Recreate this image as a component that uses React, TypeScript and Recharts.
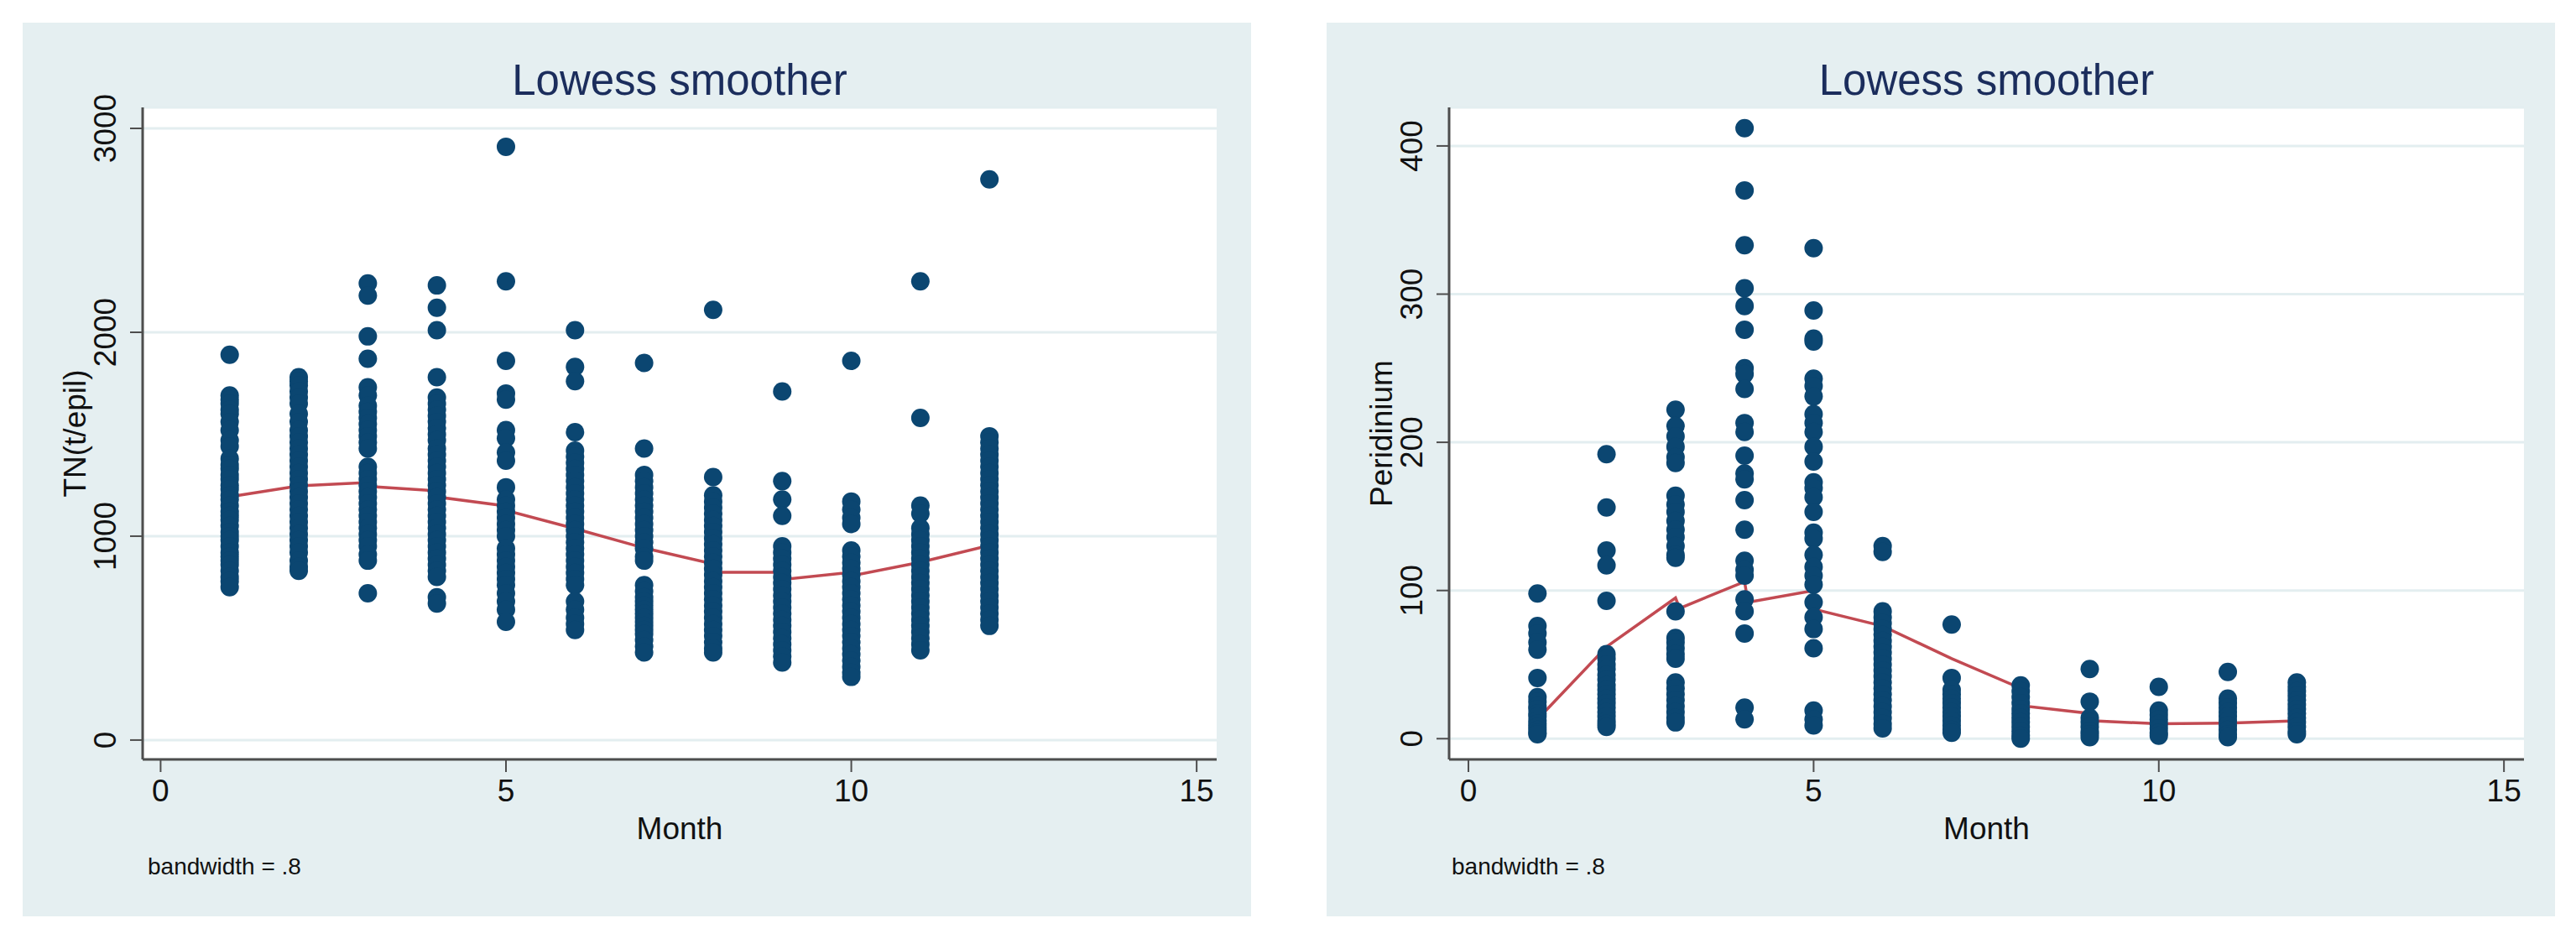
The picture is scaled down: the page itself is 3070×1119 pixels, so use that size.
import React from "react";
import {
  CartesianGrid,
  ComposedChart,
  Line,
  Scatter,
  XAxis,
  YAxis,
} from "recharts";

const MONTHS = [1, 2, 3, 4, 5, 6, 7, 8, 9, 10, 11, 12];
const X_TICKS = [0, 5, 10, 15];

// TN(t/epil) observations per month
const TN_BY_MONTH = [
  [1890, 1690, 1670, 1650, 1620, 1600, 1560, 1520, 1470, 1440, 1380, 1350, 1330, 1300, 1280, 1250, 1230, 1200, 1180, 1150, 1120, 1100, 1080, 1050, 1020, 1000, 980, 950, 920, 900, 880, 860, 830, 800, 780, 750],
  [1780, 1760, 1740, 1710, 1680, 1650, 1600, 1560, 1520, 1490, 1460, 1430, 1400, 1370, 1340, 1310, 1280, 1250, 1220, 1190, 1160, 1130, 1100, 1070, 1040, 1010, 980, 950, 920, 880, 850, 830],
  [2240, 2180, 1980, 1870, 1730, 1690, 1640, 1610, 1580, 1550, 1520, 1490, 1460, 1430, 1340, 1310, 1280, 1250, 1220, 1190, 1160, 1130, 1100, 1070, 1040, 1010, 980, 950, 910, 880, 720],
  [2230, 2120, 2010, 1780, 1680, 1650, 1620, 1590, 1560, 1530, 1500, 1470, 1430, 1400, 1370, 1340, 1310, 1280, 1250, 1220, 1190, 1160, 1130, 1100, 1070, 1040, 1010, 980, 950, 920, 890, 860, 830, 800, 700, 670],
  [2910, 2250, 1860, 1700, 1670, 1520, 1480, 1410, 1370, 1240, 1180, 1150, 1120, 1090, 1060, 1030, 1000, 940, 910, 880, 850, 820, 790, 760, 720, 680, 640, 580],
  [2010, 1830, 1760, 1510, 1420, 1390, 1360, 1330, 1300, 1270, 1240, 1210, 1180, 1150, 1120, 1090, 1060, 1030, 1000, 970, 940, 910, 880, 850, 820, 790, 760, 680, 640, 600, 570, 540],
  [1850, 1430, 1300, 1270, 1240, 1210, 1180, 1150, 1120, 1090, 1060, 1030, 1000, 970, 940, 900, 880, 760, 730, 700, 680, 660, 640, 620, 600, 580, 560, 540, 520, 490, 460, 430],
  [2110, 1290, 1200, 1170, 1140, 1110, 1080, 1050, 1020, 990, 960, 930, 900, 870, 840, 810, 780, 750, 720, 690, 660, 630, 600, 570, 540, 510, 480, 450, 430],
  [1710, 1270, 1180, 1100, 950, 920, 890, 860, 830, 800, 770, 740, 710, 680, 650, 620, 590, 560, 530, 500, 470, 440, 410, 380],
  [1860, 1170, 1130, 1090, 1060, 930, 900, 870, 840, 810, 780, 750, 720, 690, 660, 630, 600, 570, 540, 510, 480, 450, 420, 390, 360, 330, 310],
  [2250, 1580, 1150, 1110, 1040, 1010, 980, 950, 920, 890, 860, 830, 800, 770, 740, 710, 680, 650, 620, 590, 560, 530, 500, 470, 440],
  [2750, 1490, 1460, 1430, 1400, 1370, 1340, 1310, 1280, 1250, 1220, 1190, 1160, 1130, 1100, 1070, 1040, 1010, 980, 950, 920, 890, 860, 830, 800, 770, 740, 710, 680, 650, 620, 590, 560],
];

// Peridinium observations per month
const PERI_BY_MONTH = [
  [98, 76, 71, 65, 60, 41, 28, 25, 22, 20, 17, 15, 12, 10, 8, 6, 4, 3],
  [192, 156, 127, 117, 93, 57, 54, 50, 47, 43, 40, 36, 33, 30, 27, 24, 21, 18, 15, 12, 10, 8],
  [222, 211, 204, 197, 190, 186, 164, 158, 153, 147, 141, 136, 130, 124, 122, 86, 68, 65, 61, 57, 54, 38, 34, 30, 26, 22, 18, 14, 11],
  [412, 370, 333, 304, 292, 276, 250, 246, 236, 213, 207, 191, 179, 175, 161, 141, 120, 114, 110, 94, 86, 71, 21, 13],
  [331, 289, 270, 268, 243, 238, 231, 219, 213, 207, 197, 187, 173, 169, 163, 153, 139, 135, 124, 116, 110, 104, 92, 82, 74, 61, 19, 13, 9],
  [130, 126, 86, 82, 78, 74, 70, 66, 62, 58, 54, 50, 46, 42, 38, 34, 30, 26, 22, 18, 14, 10, 7],
  [77, 41, 33, 30, 27, 24, 21, 18, 15, 12, 9, 6, 4],
  [36, 32, 28, 24, 20, 17, 14, 11, 8, 5, 2, 0],
  [47, 25, 14, 11, 8, 5, 3, 1],
  [35, 19, 16, 13, 10, 7, 4, 2],
  [45, 27, 24, 21, 18, 15, 12, 9, 6, 3, 1],
  [38, 35, 32, 29, 26, 23, 20, 17, 14, 11, 8, 5, 3],
];

// lowess fitted values (x, fit)
const TN_LOWESS_X = [1, 2, 3, 3.08, 4, 4.08, 5, 5.08, 6, 7, 8, 8.08, 9, 9.08, 10, 10.08, 11, 12, 12.05];
const TN_LOWESS_Y = [1193, 1247, 1263, 1243, 1222, 1189, 1148, 1119, 1037, 942, 864, 823, 823, 790, 823, 811, 872, 955, 983];

const PERI_LOWESS_X = [1, 2, 3, 3.06, 4, 4.05, 5, 5.04, 6, 7, 8, 8.06, 9, 9.06, 10, 11, 12];
const PERI_LOWESS_Y = [13, 62, 95, 88, 106, 92, 100, 87, 76, 54, 34, 22, 17, 12, 10, 10.5, 12];

const TN_TICKS = [0, 1000, 2000, 3000];
const PERI_TICKS = [0, 100, 200, 300, 400];

const BG = "#e5eff1";
const GRID = "#e3eef0";
const NAVY = "#0b4671";
const RED = "#c24a52";
const AXIS = "#4d4d4d";
const FONT = "'Liberation Sans', Arial, sans-serif";

const PANEL_W = 1464;
const PANEL_H = 1065;
const Y_AXIS_W = 60;
const X_AXIS_H = 60;

function toPoints(byMonth: number[][]) {
  return byMonth.flatMap((vals, i) => vals.map((v) => ({ x: MONTHS[i], y: v })));
}

function toLine(xs: number[], ys: number[]) {
  return xs.map((x, i) => ({ x, y: ys[i] }));
}

function YTick(props: any) {
  const { x, y, payload } = props;
  const tx = x - 17;
  return (
    <text
      x={tx}
      y={y}
      transform={`rotate(-90, ${tx}, ${y})`}
      textAnchor="middle"
      fontSize={37}
      fontFamily={FONT}
      fill="#111"
    >
      {payload.value}
    </text>
  );
}

function XTick(props: any) {
  const { x, y, payload } = props;
  return (
    <text x={x} y={y + 35} textAnchor="middle" fontSize={37} fontFamily={FONT} fill="#111">
      {payload.value}
    </text>
  );
}

function Dot(props: any) {
  return <circle cx={props.cx} cy={props.cy} r={11} fill={NAVY} />;
}

function Panel({
  left,
  yLabel,
  points,
  lowess,
  yDomain,
  yTicks,
  xDomain,
  plotLeft,
  plotRight,
}: {
  left: number;
  yLabel: string;
  points: { x: number; y: number }[];
  lowess: { x: number; y: number }[];
  yDomain: [number, number];
  yTicks: number[];
  xDomain: [number, number];
  plotLeft: number;
  plotRight: number;
}) {
  const top = 101;
  const bottom = 187;
  const cx = plotLeft + (PANEL_W - plotLeft - plotRight) / 2;
  const cy = top + (PANEL_H - top - bottom) / 2;
  return (
    <div
      style={{
        position: "absolute",
        left,
        top: 27,
        width: PANEL_W,
        height: PANEL_H,
        background: BG,
      }}
    >
      <ComposedChart
        width={PANEL_W}
        height={PANEL_H}
        margin={{
          top,
          right: plotRight,
          bottom: bottom - X_AXIS_H,
          left: plotLeft - Y_AXIS_W,
        }}
      >
        <CartesianGrid vertical={false} stroke={GRID} strokeWidth={3} fill="#ffffff" />
        <XAxis
          type="number"
          dataKey="x"
          domain={xDomain}
          ticks={X_TICKS}
          allowDataOverflow
          height={X_AXIS_H}
          tickSize={15}
          tickMargin={0}
          axisLine={{ stroke: AXIS, strokeWidth: 3 }}
          tickLine={{ stroke: AXIS, strokeWidth: 2 }}
          tick={<XTick />}
        />
        <YAxis
          type="number"
          dataKey="y"
          domain={yDomain}
          ticks={yTicks}
          allowDataOverflow
          width={Y_AXIS_W}
          tickSize={15}
          tickMargin={0}
          axisLine={{ stroke: AXIS, strokeWidth: 3 }}
          tickLine={{ stroke: AXIS, strokeWidth: 2 }}
          tick={<YTick />}
        />
        <Scatter data={points} dataKey="y" shape={<Dot />} isAnimationActive={false} />
        <Line
          data={lowess}
          dataKey="y"
          type="linear"
          stroke={RED}
          strokeWidth={3.5}
          dot={false}
          activeDot={false}
          isAnimationActive={false}
        />
      </ComposedChart>
      <svg
        width={PANEL_W}
        height={PANEL_H}
        style={{ position: "absolute", left: 0, top: 0, pointerEvents: "none" }}
      >
        <text x={cx} y={86} textAnchor="middle" fontSize={51} fontFamily={FONT} fill="#1b2d5c">
          Lowess smoother
        </text>
        <text x={cx} y={973} textAnchor="middle" fontSize={37} fontFamily={FONT} fill="#111">
          Month
        </text>
        <text x={149} y={1015} fontSize={28} fontFamily={FONT} fill="#111">
          bandwidth = .8
        </text>
        <text
          x={plotLeft - 68}
          y={cy}
          transform={`rotate(-90, ${plotLeft - 68}, ${cy})`}
          textAnchor="middle"
          fontSize={37}
          fontFamily={FONT}
          fill="#111"
        >
          {yLabel}
        </text>
      </svg>
    </div>
  );
}

export default function App() {
  return (
    <div
      style={{
        position: "absolute",
        left: 0,
        top: 0,
        width: 3070,
        height: 1119,
        background: "#ffffff",
      }}
    >
      <Panel
        left={27}
        yLabel="TN(t/epil)"
        points={toPoints(TN_BY_MONTH)}
        lowess={toLine(TN_LOWESS_X, TN_LOWESS_Y)}
        yDomain={[-95, 3103]}
        yTicks={TN_TICKS}
        xDomain={[-0.26, 15.29]}
        plotLeft={143}
        plotRight={41}
      />
      <Panel
        left={1581}
        yLabel="Peridinium"
        points={toPoints(PERI_BY_MONTH)}
        lowess={toLine(PERI_LOWESS_X, PERI_LOWESS_Y)}
        yDomain={[-14, 426]}
        yTicks={PERI_TICKS}
        xDomain={[-0.28, 15.29]}
        plotLeft={146}
        plotRight={37}
      />
    </div>
  );
}
